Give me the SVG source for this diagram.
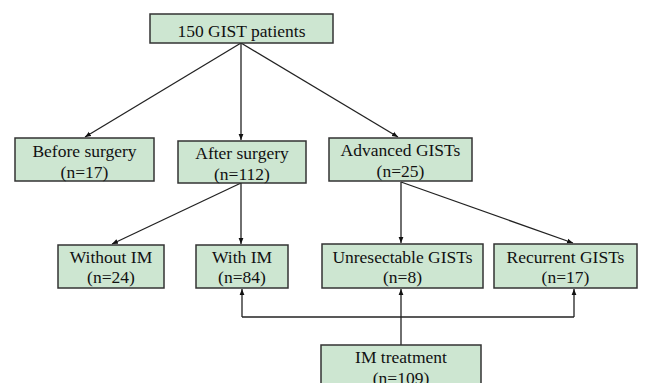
<svg xmlns="http://www.w3.org/2000/svg" width="650" height="383" viewBox="0 0 650 383">
<style>
.box{fill:#cde6d1;stroke:#333;stroke-width:1.5}
.t{font-family:"Liberation Serif","Times New Roman",serif;font-size:17.5px;fill:#111;text-anchor:middle}
.c{stroke:#222;stroke-width:1.3;fill:none}
</style>
<defs>
<marker id="ah" viewBox="0 0 10 10" refX="10" refY="5" markerWidth="6" markerHeight="6" orient="auto" markerUnits="userSpaceOnUse">
<path d="M0,1 L10,5 L0,9 z" fill="#111"/>
</marker>
</defs>
<rect width="650" height="383" fill="#fff"/>
<g id="connectors">
<line class="c" x1="241" y1="43" x2="85" y2="137" marker-end="url(#ah)"/>
<line class="c" x1="241" y1="43" x2="241" y2="140" marker-end="url(#ah)"/>
<line class="c" x1="241" y1="43" x2="398" y2="137" marker-end="url(#ah)"/>
<line class="c" x1="241" y1="183" x2="112" y2="244" marker-end="url(#ah)"/>
<line class="c" x1="241" y1="183" x2="241" y2="244" marker-end="url(#ah)"/>
<line class="c" x1="401" y1="182" x2="401" y2="243" marker-end="url(#ah)"/>
<line class="c" x1="401" y1="182" x2="573" y2="243" marker-end="url(#ah)"/>
<line class="c" x1="401" y1="345" x2="401" y2="289" marker-end="url(#ah)"/>
<polyline class="c" points="242,317 574,317"/>
<line class="c" x1="242" y1="317" x2="242" y2="289" marker-end="url(#ah)"/>
<line class="c" x1="574" y1="317" x2="574" y2="289" marker-end="url(#ah)"/>
</g>
<g id="n-total"><rect class="box" x="150" y="14" width="183" height="29"/><text class="t" x="241.5" y="37">150 GIST patients</text></g>
<g id="n-before"><rect class="box" x="15" y="138" width="139" height="43"/><text class="t" x="84.5" y="157">Before surgery</text><text class="t" x="84.5" y="178">(n=17)</text></g>
<g id="n-after"><rect class="box" x="178" y="141" width="128" height="42"/><text class="t" x="242" y="159">After surgery</text><text class="t" x="242" y="180">(n=112)</text></g>
<g id="n-advanced"><rect class="box" x="329" y="138" width="143" height="43"/><text class="t" x="400.5" y="156">Advanced GISTs</text><text class="t" x="400.5" y="177">(n=25)</text></g>
<g id="n-without"><rect class="box" x="58" y="245" width="106" height="43"/><text class="t" x="111" y="263">Without IM</text><text class="t" x="111" y="283">(n=24)</text></g>
<g id="n-with"><rect class="box" x="196" y="245" width="92" height="43"/><text class="t" x="242" y="263">With IM</text><text class="t" x="242" y="283">(n=84)</text></g>
<g id="n-unresectable"><rect class="box" x="322" y="244" width="161" height="44"/><text class="t" x="402.5" y="263">Unresectable GISTs</text><text class="t" x="402.5" y="283">(n=8)</text></g>
<g id="n-recurrent"><rect class="box" x="494" y="244" width="143" height="44"/><text class="t" x="565.5" y="263">Recurrent GISTs</text><text class="t" x="565.5" y="283">(n=17)</text></g>
<g id="n-im"><rect class="box" x="321" y="345" width="160" height="46"/><text class="t" x="401" y="363">IM treatment</text><text class="t" x="401" y="384">(n=109)</text></g>
</svg>
